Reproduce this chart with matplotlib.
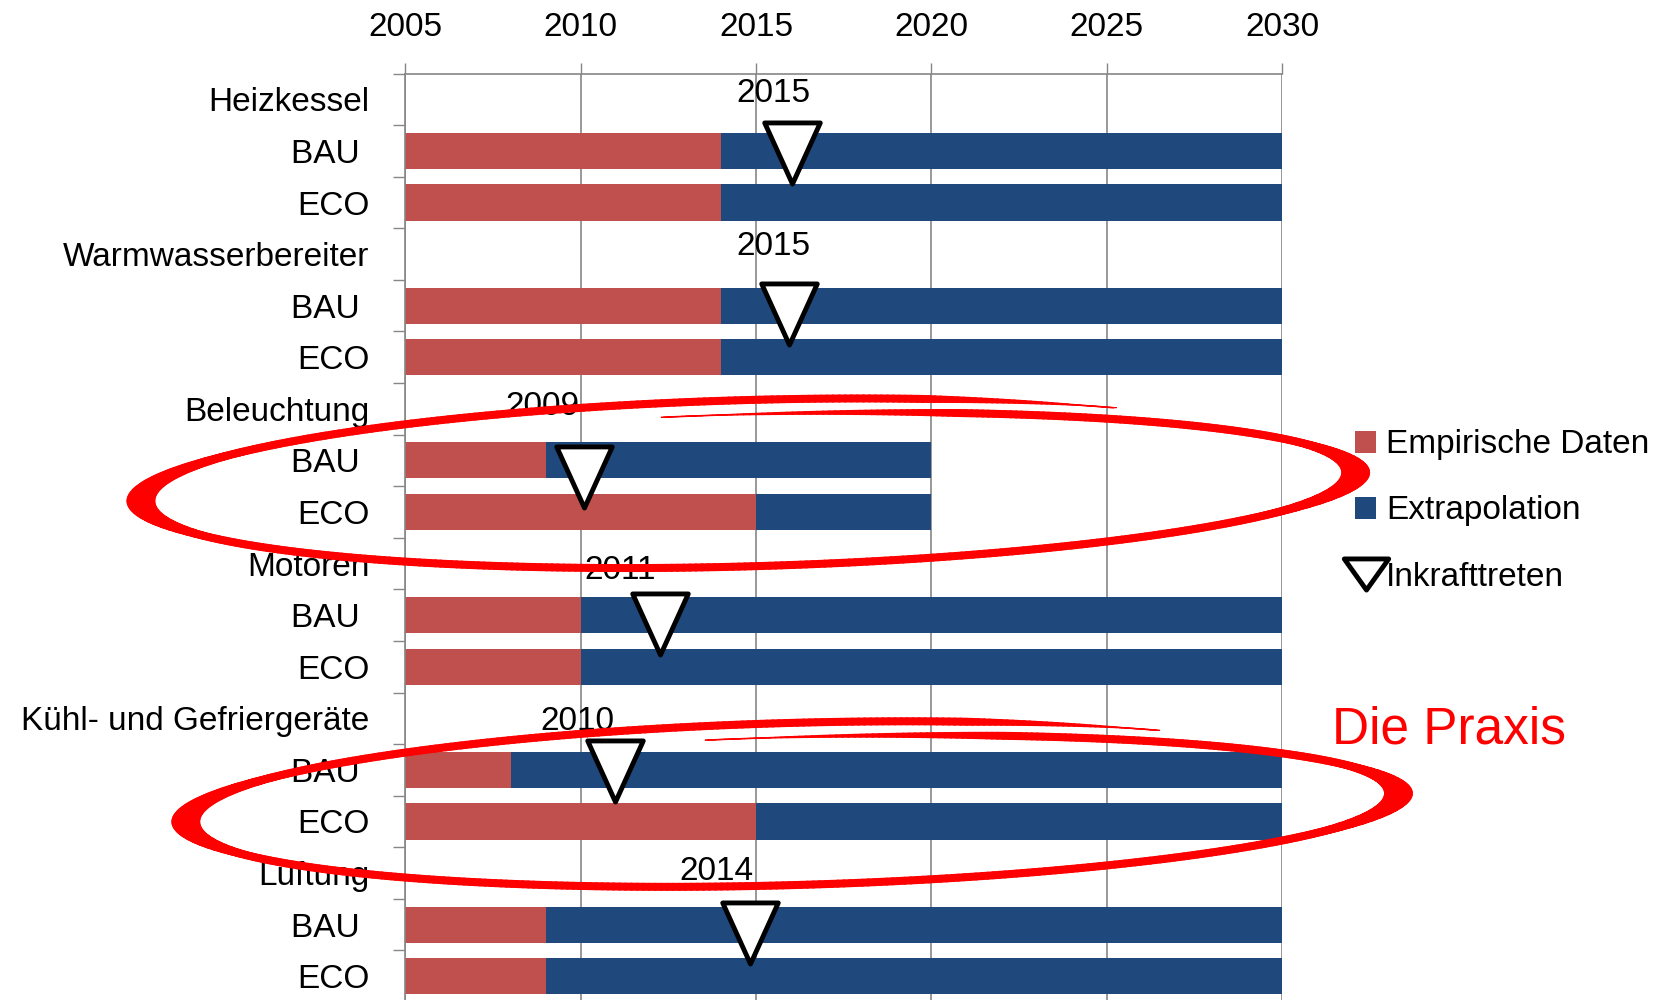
import numpy as np
from matplotlib import pyplot as plt
from matplotlib.patches import Patch
from matplotlib.lines import Line2D
from matplotlib.path import Path
from matplotlib.collections import LineCollection, PolyCollection

plt.rcParams['font.family'] = ['Liberation Sans', 'DejaVu Sans']

# --- data ---
gruppen = ['Heizkessel', 'Warmwasserbereiter', 'Beleuchtung', 'Motoren',
           'Kühl- und Gefriergeräte', 'Lüftung']
start = 2005
emp_bau = [2014, 2014, 2009, 2010, 2008, 2009]
ext_bau = [2030, 2030, 2020, 2030, 2030, 2030]
emp_eco = [2014, 2014, 2015, 2010, 2015, 2009]
ext_eco = [2030, 2030, 2020, 2030, 2030, 2030]

inkraft_jahr = [2015, 2015, 2009, 2011, 2010, 2014]
marker_x = [2016.03, 2015.94, 2010.1, 2012.26, 2010.98, 2014.83]
marker_zeile = [1.03, 4.17, 7.32, 10.18, 13.03, 16.17]
label_x = [2015.51, 2015.51, 2008.9, 2011.12, 2009.92, 2013.88]
label_zeile = [-0.18, 2.78, 5.89, 9.07, 12.0, 14.9]

rot = '#C0504D'
blau = '#1F497D'
grau = '#868686'
fs = 24

# Zeilen: Gruppe, BAU, ECO
zeilen_namen = []
for g in gruppen:
    zeilen_namen += [g, 'BAU ', 'ECO']
n = len(zeilen_namen)
bau_y = np.arange(len(gruppen)) * 3 + 1
eco_y = bau_y + 1

fig = plt.figure(figsize=(16.68, 10), dpi=100)
ax = fig.add_axes([0.2430, -0.002, 0.5256, 0.9284])

h = 0.70
emp_bau = np.array(emp_bau)
emp_eco = np.array(emp_eco)
ax.barh(bau_y, emp_bau - start, left=start, height=h, color=rot, zorder=2)
ax.barh(bau_y, np.array(ext_bau) - emp_bau, left=emp_bau, height=h, color=blau, zorder=2)
ax.barh(eco_y, emp_eco - start, left=start, height=h, color=rot, zorder=2)
ax.barh(eco_y, np.array(ext_eco) - emp_eco, left=emp_eco, height=h, color=blau, zorder=2)

dreieck = Path([(-1, 1.1), (1, 1.1), (0, -1.1), (-1, 1.1)], closed=True)
ax.plot(marker_x, marker_zeile, linestyle='none', marker=dreieck, ms=44,
        mfc='white', mec='black', mew=3.5, zorder=4, clip_on=False)
for jx, jy, jahr in zip(label_x, label_zeile, inkraft_jahr):
    ax.text(jx, jy + 0.23, str(jahr), ha='center', va='baseline', fontsize=fs, zorder=3)

ax.set_xlim(2005, 2030)
ax.set_ylim(n - 0.5, -0.5)
ax.set_xticks(np.arange(2005, 2031, 5))
ax.xaxis.tick_top()
ax.tick_params(axis='x', length=8, width=1, color=grau, labelsize=fs, pad=14)
ax.grid(axis='x', color=grau, lw=1.2, zorder=0)
ax.set_axisbelow(True)

ax.set_yticks(np.arange(n + 1) - 0.5)
ax.set_yticklabels([])
ax.set_yticks(np.arange(n), minor=True)
ax.set_yticklabels(zeilen_namen, minor=True)
ax.tick_params(axis='y', which='major', length=8.5, width=1, color=grau)
ax.tick_params(axis='y', which='minor', length=0, labelsize=fs, pad=26)

for s in ['right', 'bottom']:
    ax.spines[s].set_visible(False)
for s in ['left', 'top']:
    ax.spines[s].set_color(grau)
    ax.spines[s].set_linewidth(1.2)

# Legende
leg_tri = Path([(-1, 0.7), (1, 0.7), (0, -0.7), (-1, 0.7)], closed=True)
handles = [Patch(facecolor=rot, edgecolor='none'),
           Patch(facecolor=blau, edgecolor='none'),
           Line2D([], [], linestyle='none', marker=leg_tri, ms=32, mfc='white',
                  mec='black', mew=3.5)]
ax.legend(handles, ['Empirische Daten', 'Extrapolation', 'Inkrafttreten'],
          loc='upper left', bbox_to_anchor=(0.8124, 0.5705),
          bbox_transform=fig.transFigure, frameon=False, fontsize=fs,
          handlelength=0.63, handleheight=0.63, handletextpad=0.3,
          labelspacing=1.05, borderpad=0, borderaxespad=0)


# rote Handkringel (breite, waagrechte Feder)
def kringel(cx, cy, a, b0, b1, tilt, feder=28, dicke=8):
    t0, t1 = np.radians(98), np.radians(-307)
    t = np.linspace(t0, t1, 700)
    frac = (t0 - t) / (t0 - t1)
    b = b0 + (b1 - b0) * frac
    x = cx + a * np.cos(t)
    y = cy - b * np.sin(t) - tilt * (x - cx)
    pix = ax.transData.transform(np.column_stack([x, y]))
    taper = np.clip(np.minimum(frac / 0.07, (1 - frac) / 0.05), 0.2, 1)
    half = 0.5 * feder * taper
    quads = []
    for i in range(len(pix) - 1):
        p, q = pix[i], pix[i + 1]
        quads.append([(p[0] - half[i], p[1]), (p[0] + half[i], p[1]),
                      (q[0] + half[i + 1], q[1]), (q[0] - half[i + 1], q[1])])
    inv = ax.transData.inverted()
    quads = [inv.transform(np.array(qd)) for qd in quads]
    pc = PolyCollection(quads, facecolors='#FF0000', edgecolors='#FF0000',
                        linewidths=0.6, zorder=6, clip_on=False)
    ax.add_collection(pc)
    pts = np.column_stack([x, y])
    segs = np.stack([pts[:-1], pts[1:]], axis=1)
    lw = dicke * 0.5 * (taper[1:] + taper[:-1]) * 72 / 100
    lc = LineCollection(segs, linewidths=lw, colors='#FF0000',
                        capstyle='round', zorder=6, clip_on=False)
    ax.add_collection(lc)


kringel(2014.78, 7.51, 17.32, 1.40, 1.71, 0.0159)
kringel(2016.03, 13.73, 17.29, 1.36, 1.67, 0.0159)

fig.text(0.7986, 0.256, 'Die Praxis', color='#FF0000', fontsize=37, va='baseline')

fig.savefig('out.png', dpi=100)
